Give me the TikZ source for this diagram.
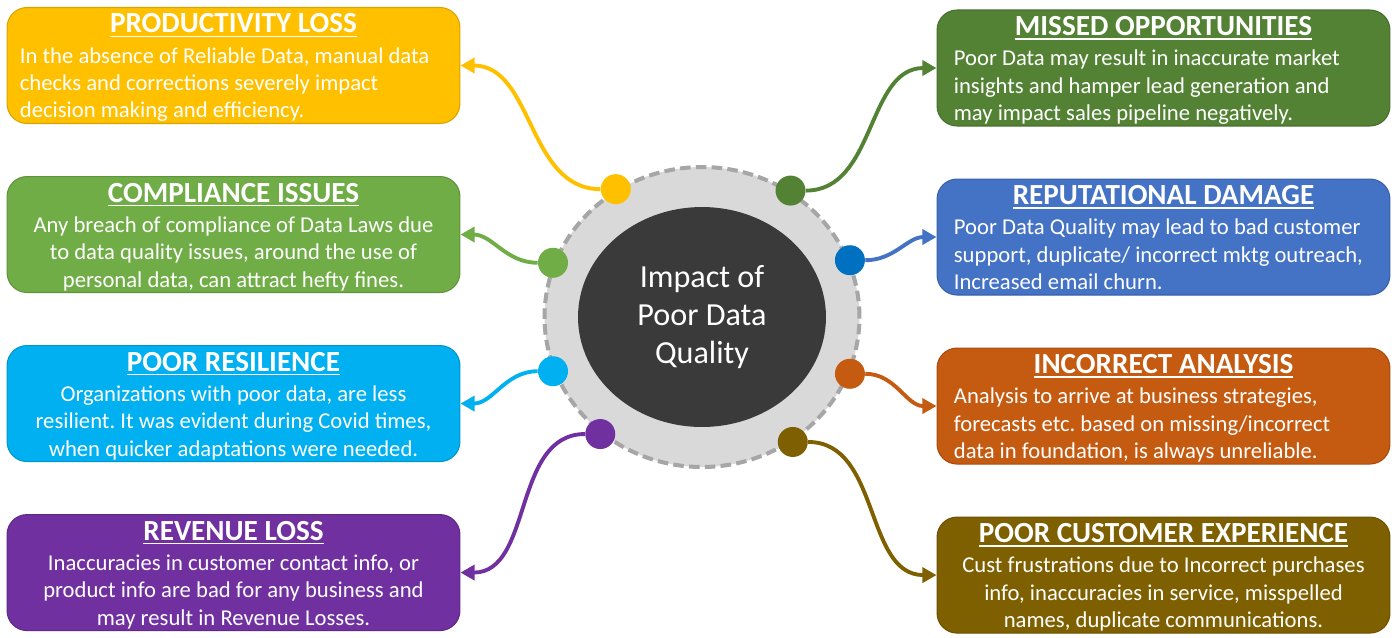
\documentclass[tikz,border=0pt]{standalone}
\usepackage{fontspec}
\setmainfont{Carlito}
\usetikzlibrary{positioning, calc, shapes.geometric, arrows.meta}

\definecolor{pqYellow}{HTML}{FFC000}
\definecolor{pqLGreen}{HTML}{70AD47}
\definecolor{pqCyan}{HTML}{00B0F0}
\definecolor{pqPurple}{HTML}{7030A0}
\definecolor{pqDGreen}{HTML}{548235}
\definecolor{pqBlue}{HTML}{4472C4}
\definecolor{pqBlueDot}{HTML}{0070C0}
\definecolor{pqOrange}{HTML}{C55A11}
\definecolor{pqBrown}{HTML}{7F6000}
\definecolor{pqRing}{HTML}{D9D9D9}
\definecolor{pqDash}{HTML}{A6A6A6}
\definecolor{pqHub}{HTML}{3A3A3A}

\newsavebox{\headbox}
\newcommand{\ulhead}[1]{\sbox{\headbox}{#1}\rlap{\usebox{\headbox}}\rule[-2.4pt]{\wd\headbox}{0.9pt}}

\begin{document}
\frenchspacing
\begin{tikzpicture}[
    x=0.02cm, y=-0.02cm,
    card/.style={rectangle, rounded corners=0.4cm, fill=#1, draw=#1!85!black,
                 line width=0.6pt, minimum width=9.06cm, minimum height=2.32cm},
    head/.style={anchor=base, inner sep=0pt, text=white,
                 font=\fontsize{16.6}{19}\selectfont\bfseries},
    blurb/.style={anchor=base, inner sep=0pt, text=white,
                  font=\fontsize{12.9}{15.6}\selectfont},
    ring/.style={ellipse, fill=pqRing, draw=pqDash, line width=2.3pt,
                 dash pattern=on 6pt off 3pt, minimum width=6.3cm, minimum height=6cm},
    hub/.style={ellipse, fill=pqHub, text=white, align=center,
                minimum width=4.96cm, minimum height=4.4cm,
                font=\fontsize{18.3}{21.5}\selectfont},
    spot/.style={circle, fill=#1, minimum size=0.6cm, inner sep=0pt},
    link/.style={draw=#1, line width=2.2pt, -{Triangle[length=8pt, width=8.5pt]}}
  ]
    \useasboundingbox (0,0) rectangle (1400,637);

    % Center
    \node[ring] (ring) at (702,317) {};
    \node[hub] (hub) at (ring) {Impact of\\Poor Data\\Quality};

    % Spots on the ring
    \node[spot=pqYellow] (s-prod) at (ring.124) {};
    \node[spot=pqLGreen] (s-comp) at (ring.160) {};
    \node[spot=pqCyan] (s-res) at (ring.200) {};
    \node[spot=pqPurple] (s-rev) at (ring.229) {};
    \node[spot=pqDGreen] (s-miss) at (ring.55) {};
    \node[spot=pqBlueDot] (s-rep) at (ring.21) {};
    \node[spot=pqOrange] (s-ana) at (ring.339) {};
    \node[spot=pqBrown] (s-cx) at (ring.306) {};

    % Left column
    \node[card=pqYellow] (prod) at (233.5,65.5) {};
    \node[card=pqLGreen, below=1.04cm of prod] (comp) {};
    \node[card=pqCyan, below=1.04cm of comp] (res) {};
    \node[card=pqPurple, below=1.04cm of res] (rev) {};

    % Right column
    \node[card=pqDGreen] (miss) at (1163.5,68) {};
    \node[card=pqBlue, below=1.04cm of miss] (rep) {};
    \node[card=pqOrange, below=1.04cm of rep] (ana) {};
    \node[card=pqBrown, below=1.04cm of ana] (cx) {};

    % Titles
    \node[head] (prod-h) at ($(prod.north)+(0,26)$) {\ulhead{PRODUCTIVITY LOSS}};
    \node[head] (comp-h) at ($(comp.north)+(0,26)$) {\ulhead{COMPLIANCE ISSUES}};
    \node[head] (res-h) at ($(res.north)+(0,26)$) {\ulhead{POOR RESILIENCE}};
    \node[head] (rev-h) at ($(rev.north)+(0,26)$) {\ulhead{REVENUE LOSS}};
    \node[head] (miss-h) at ($(miss.north)+(0,26)$) {\ulhead{MISSED OPPORTUNITIES}};
    \node[head] (rep-h) at ($(rep.north)+(0,26)$) {\ulhead{REPUTATIONAL DAMAGE}};
    \node[head] (ana-h) at ($(ana.north)+(0,26)$) {\ulhead{INCORRECT ANALYSIS}};
    \node[head] (cx-h) at ($(cx.north)+(0,26)$) {\ulhead{POOR CUSTOMER EXPERIENCE}};

    % Texts (anchored on the last line)
    \node[blurb, align=left, anchor=base west] (prod-b) at ($(prod.north west)+(13,111)$)
      {In the absence of Reliable Data, manual data\\checks and corrections severely impact\\decision making and efficiency.};
    \node[blurb, align=center] (comp-b) at ($(comp.north)+(0,111)$)
      {Any breach of compliance of Data Laws due\\to data quality issues, around the use of\\personal data, can attract hefty fines.};
    \node[blurb, align=center] (res-b) at ($(res.north)+(0,111)$)
      {Organizations with poor data, are less\\resilient. It was evident during Covid times,\\when quicker adaptations were needed.};
    \node[blurb, align=center] (rev-b) at ($(rev.north)+(0,111)$)
      {Inaccuracies in customer contact info, or\\product info are bad for any business and\\may result in Revenue Losses.};
    \node[blurb, align=left, anchor=base west] (miss-b) at ($(miss.north west)+(17,111)$)
      {Poor Data may result in inaccurate market\\insights and hamper lead generation and\\may impact sales pipeline negatively.};
    \node[blurb, align=left, anchor=base west] (rep-b) at ($(rep.north west)+(17,111)$)
      {Poor Data Quality may lead to bad customer\\support, duplicate/ incorrect mktg outreach,\\Increased email churn.};
    \node[blurb, align=left, anchor=base west] (ana-b) at ($(ana.north west)+(17,111)$)
      {Analysis to arrive at business strategies,\\forecasts etc. based on missing/incorrect\\data in foundation, is always unreliable.};
    \node[blurb, align=center] (cx-b) at ($(cx.north)+(0,111)$)
      {Cust frustrations due to Incorrect purchases\\info, inaccuracies in service, misspelled\\names, duplicate communications.};

    % Links
    \draw[link=pqYellow] (s-prod) to[out=180, in=0] (prod.east);
    \draw[link=pqLGreen] (s-comp) to[out=180, in=0] (comp.east);
    \draw[link=pqCyan] (s-res) to[out=180, in=0] (res.east);
    \draw[link=pqPurple] (s-rev) to[out=180, in=0] (rev.east);
    \draw[link=pqDGreen] (s-miss) to[out=0, in=180] (miss.west);
    \draw[link=pqBlue] (s-rep) to[out=0, in=180] (rep.west);
    \draw[link=pqOrange] (s-ana) to[out=0, in=180] (ana.west);
    \draw[link=pqBrown] (s-cx) to[out=0, in=180] (cx.west);
\end{tikzpicture}
\end{document}
